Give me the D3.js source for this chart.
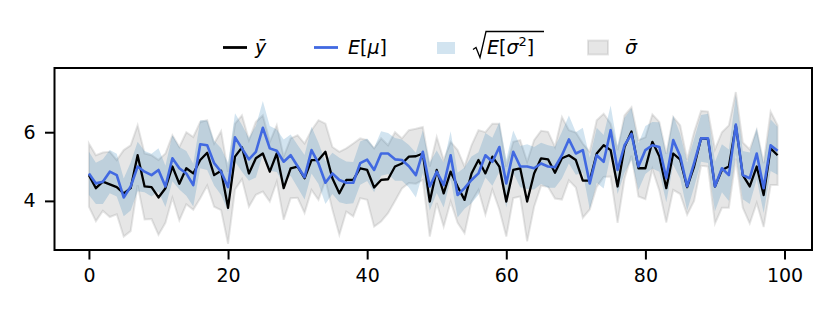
<!DOCTYPE html>
<html>
<head>
<meta charset="utf-8">
<script src="https://cdn.jsdelivr.net/npm/d3@7"></script>
<style>
  body { margin: 0; background: #fff; }
  svg text { font-family: "DejaVu Sans", sans-serif; }
</style>
</head>
<body>
<div id="chart"></div>
<script>
// values (index 0..99)
const ybar = [
  4.75, 4.37, 4.56, 4.48, 4.40, 4.22, 4.37, 5.33, 4.42, 4.40,
  4.10, 4.37, 5.00, 4.50, 4.95, 4.80, 5.19, 5.40, 4.75, 4.88,
  3.80, 5.29, 5.56, 4.80, 5.24, 5.38, 4.85, 5.38, 4.37, 4.95,
  5.00, 4.66, 5.19, 5.19, 5.43, 4.66, 4.22, 4.61, 4.61, 4.95,
  4.90, 4.39, 4.61, 4.63, 5.00, 5.09, 5.29, 5.30, 5.38, 3.98,
  4.90, 4.22, 4.85, 4.42, 4.03, 4.80, 5.19, 4.80, 5.29, 5.00,
  3.98, 4.90, 4.95, 3.98, 4.80, 5.24, 5.21, 4.82, 5.24, 5.33,
  5.19, 4.59, 4.59, 5.38, 5.62, 5.48, 4.42, 5.57, 6.02, 4.95,
  4.95, 5.72, 5.30, 4.37, 5.38, 5.20, 4.40, 5.00, 5.82, 5.80,
  4.42, 4.90, 5.00, 6.20, 4.75, 4.42, 5.00, 4.17, 5.53, 5.33
];
const Emu = [
  4.80, 4.51, 4.56, 4.85, 4.75, 4.10, 4.42, 5.00, 4.85, 4.75,
  4.90, 4.42, 5.24, 4.95, 4.80, 4.46, 5.65, 5.62, 5.10, 4.85,
  4.40, 5.85, 5.53, 5.21, 5.43, 6.13, 5.53, 5.46, 5.14, 5.33,
  5.01, 4.69, 5.48, 5.09, 4.53, 4.80, 4.61, 4.53, 4.53, 5.10,
  5.20, 4.90, 5.38, 5.38, 5.21, 5.19, 5.01, 4.75, 5.43, 4.42,
  4.85, 4.46, 5.33, 4.17, 4.37, 4.61, 4.80, 5.33, 5.14, 5.57,
  4.51, 5.43, 5.00, 5.00, 4.95, 5.09, 5.00, 4.98, 5.33, 5.79,
  5.38, 5.48, 4.51, 5.33, 5.14, 6.06, 4.90, 5.62, 5.95, 5.00,
  5.48, 5.62, 5.57, 4.66, 5.77, 5.30, 4.42, 5.10, 5.82, 5.82,
  4.42, 4.95, 4.75, 6.22, 4.75, 4.66, 5.38, 4.37, 5.62, 5.46
];
// sqrt(E[sigma^2]) : half width of the blue band around E[mu]
const sqrtEs2 = [
  0.63, 0.60, 0.65, 0.63, 0.62, 0.55, 0.70, 0.72, 0.60, 0.62,
  0.63, 0.60, 0.67, 0.62, 0.65, 0.62, 0.70, 0.72, 0.65, 0.68,
  0.70, 0.70, 0.68, 0.62, 0.75, 0.78, 0.65, 0.62, 0.65, 0.60,
  0.62, 0.65, 0.68, 0.60, 0.62, 0.60, 0.65, 0.62, 0.60, 0.63,
  0.62, 0.65, 0.65, 0.60, 0.62, 0.60, 0.62, 0.65, 0.62, 0.70,
  0.62, 0.65, 0.70, 0.65, 0.60, 0.68, 0.62, 0.65, 0.70, 0.72,
  0.70, 0.62, 0.60, 0.65, 0.62, 0.60, 0.62, 0.60, 0.68, 0.70,
  0.62, 0.65, 0.75, 0.80, 0.78, 0.72, 0.70, 0.80, 0.75, 0.68,
  0.70, 0.68, 0.72, 0.70, 0.72, 0.65, 0.70, 0.70, 0.68, 0.72,
  0.72, 0.70, 0.75, 0.85, 0.70, 0.75, 0.75, 0.72, 0.75, 0.70
];
// sigma bar : half width of the grey band around ybar
const sigmaBar = [
  0.92, 0.96, 0.85, 0.95, 0.79, 1.26, 1.25, 0.87, 0.96, 0.93,
  1.09, 1.01, 0.91, 1.07, 1.05, 1.06, 1.11, 0.95, 0.92, 1.15,
  1.05, 0.96, 0.93, 0.97, 1.06, 1.11, 0.87, 0.82, 0.92, 0.87,
  0.91, 1.01, 0.87, 1.16, 0.82, 0.91, 1.21, 0.92, 1.06, 0.87,
  0.87, 1.14, 1.21, 0.99, 1.00, 0.73, 0.77, 0.80, 0.77, 1.02,
  0.96, 0.97, 0.87, 1.06, 0.97, 0.82, 0.87, 1.20, 0.96, 1.25,
  1.02, 0.82, 0.82, 1.16, 0.97, 0.80, 0.80, 0.75, 1.20, 0.73,
  0.80, 1.08, 0.84, 0.97, 0.92, 0.77, 1.06, 0.92, 0.71, 0.82,
  0.90, 0.80, 1.00, 1.00, 1.06, 1.00, 0.80, 1.00, 0.80, 0.80,
  1.08, 1.10, 1.20, 0.97, 0.95, 1.08, 1.06, 0.93, 1.07, 0.87
];
const xTicks = [0, 20, 40, 60, 80, 100];
const yTicks = [4, 6];

const width = 830;
const height = 312;
const margin = {left: 54.5, right: 18, top: 68, bottom: 62};
const fontSize = 19;

const svg = d3.select("#chart")
  .append("svg")
  .attr("width", width)
  .attr("height", height);

const idx = d3.range(ybar.length);

// matplotlib style limits: 5% padding on x
const xScale = d3.scaleLinear()
  .domain([-4.95, 103.95])
  .range([margin.left, width - margin.right]);

const yScale = d3.scaleLinear()
  .domain([2.57, 7.87])
  .range([height - margin.bottom, margin.top]);

svg.append("clipPath").attr("id", "clip")
  .append("rect")
  .attr("x", margin.left).attr("y", margin.top)
  .attr("width", width - margin.left - margin.right)
  .attr("height", height - margin.top - margin.bottom);

const plot = svg.append("g").attr("clip-path", "url(#clip)");

// grey band: ybar +/- sigma bar
const greyArea = d3.area()
  .x(i => xScale(i))
  .y0(i => yScale(ybar[i] - sigmaBar[i]))
  .y1(i => yScale(ybar[i] + sigmaBar[i]));

plot.append("path")
  .datum(idx)
  .attr("d", greyArea)
  .attr("fill", "grey").attr("fill-opacity", 0.2)
  .attr("stroke", "grey").attr("stroke-opacity", 0.2)
  .attr("stroke-width", 2);

// blue band: E[mu] +/- sqrt(E[sigma^2])
const blueArea = d3.area()
  .x(i => xScale(i))
  .y0(i => yScale(Emu[i] - sqrtEs2[i]))
  .y1(i => yScale(Emu[i] + sqrtEs2[i]));

plot.append("path")
  .datum(idx)
  .attr("d", blueArea)
  .attr("fill", "#1f77b4").attr("fill-opacity", 0.2);

const line = arr => d3.line().x(i => xScale(i)).y(i => yScale(arr[i]));

plot.append("path")
  .datum(idx)
  .attr("d", line(ybar))
  .attr("fill", "none")
  .attr("stroke", "black")
  .attr("stroke-width", 2.3)
  .attr("stroke-linejoin", "round");

plot.append("path")
  .datum(idx)
  .attr("d", line(Emu))
  .attr("fill", "none")
  .attr("stroke", "royalblue")
  .attr("stroke-width", 2.6)
  .attr("stroke-linejoin", "round");

// axes
const xAxis = svg.append("g")
  .attr("transform", `translate(0,${height - margin.bottom})`)
  .call(d3.axisBottom(xScale).tickValues(xTicks).tickSize(9.5).tickPadding(9.5));

const yAxis = svg.append("g")
  .attr("transform", `translate(${margin.left},0)`)
  .call(d3.axisLeft(yScale).tickValues(yTicks).tickFormat(d3.format("d"))
    .tickSize(9.5).tickPadding(9.5));

[xAxis, yAxis].forEach(g => {
  g.select(".domain").remove();
  g.selectAll(".tick line").attr("stroke", "black").attr("stroke-width", 2);
  g.selectAll(".tick text")
    .attr("font-family", "DejaVu Sans")
    .attr("font-size", fontSize)
    .attr("fill", "black");
});

// frame
svg.append("rect")
  .attr("x", margin.left).attr("y", margin.top)
  .attr("width", width - margin.left - margin.right)
  .attr("height", height - margin.top - margin.bottom)
  .attr("fill", "none")
  .attr("stroke", "black")
  .attr("stroke-width", 2);

// legend
const legY = 47.5;
const base = legY + 6;
const leg = svg.append("g").attr("font-size", fontSize);

leg.append("line")
  .attr("x1", 223).attr("x2", 247).attr("y1", legY).attr("y2", legY)
  .attr("stroke", "black").attr("stroke-width", 2.8);
leg.append("text")
  .attr("x", 255).attr("y", base)
  .attr("font-style", "italic")
  .text("\u0233");

leg.append("line")
  .attr("x1", 314).attr("x2", 338).attr("y1", legY).attr("y2", legY)
  .attr("stroke", "royalblue").attr("stroke-width", 2.8);
const t2 = leg.append("text").attr("x", 348).attr("y", base);
t2.append("tspan").attr("font-style", "italic").text("E");
t2.append("tspan").text("[");
t2.append("tspan").attr("font-style", "italic").text("\u03bc");
t2.append("tspan").text("]");

leg.append("rect")
  .attr("x", 437).attr("y", legY - 5.5).attr("width", 18).attr("height", 12)
  .attr("fill", "#1f77b4").attr("fill-opacity", 0.2);
// square root sign drawn as a path
leg.append("path")
  .attr("d", `M473,${legY + 2} L476,${legY} L480,${legY + 10} L486,${legY - 16} L544,${legY - 16}`)
  .attr("fill", "none").attr("stroke", "black").attr("stroke-width", 1.3);
const t3 = leg.append("text").attr("x", 487).attr("y", base);
t3.append("tspan").attr("font-style", "italic").text("E");
t3.append("tspan").text("[");
t3.append("tspan").attr("font-style", "italic").text("\u03c3");
t3.append("tspan").attr("font-size", 13).attr("dy", -8).text("2");
t3.append("tspan").attr("dy", 8).text("]");

leg.append("rect")
  .attr("x", 588).attr("y", legY - 7).attr("width", 20).attr("height", 14)
  .attr("fill", "grey").attr("fill-opacity", 0.2)
  .attr("stroke", "grey").attr("stroke-opacity", 0.2).attr("stroke-width", 2);
leg.append("text")
  .attr("x", 625).attr("y", base)
  .attr("font-style", "italic")
  .text("\u03c3\u0304");
</script>
</body>
</html>
